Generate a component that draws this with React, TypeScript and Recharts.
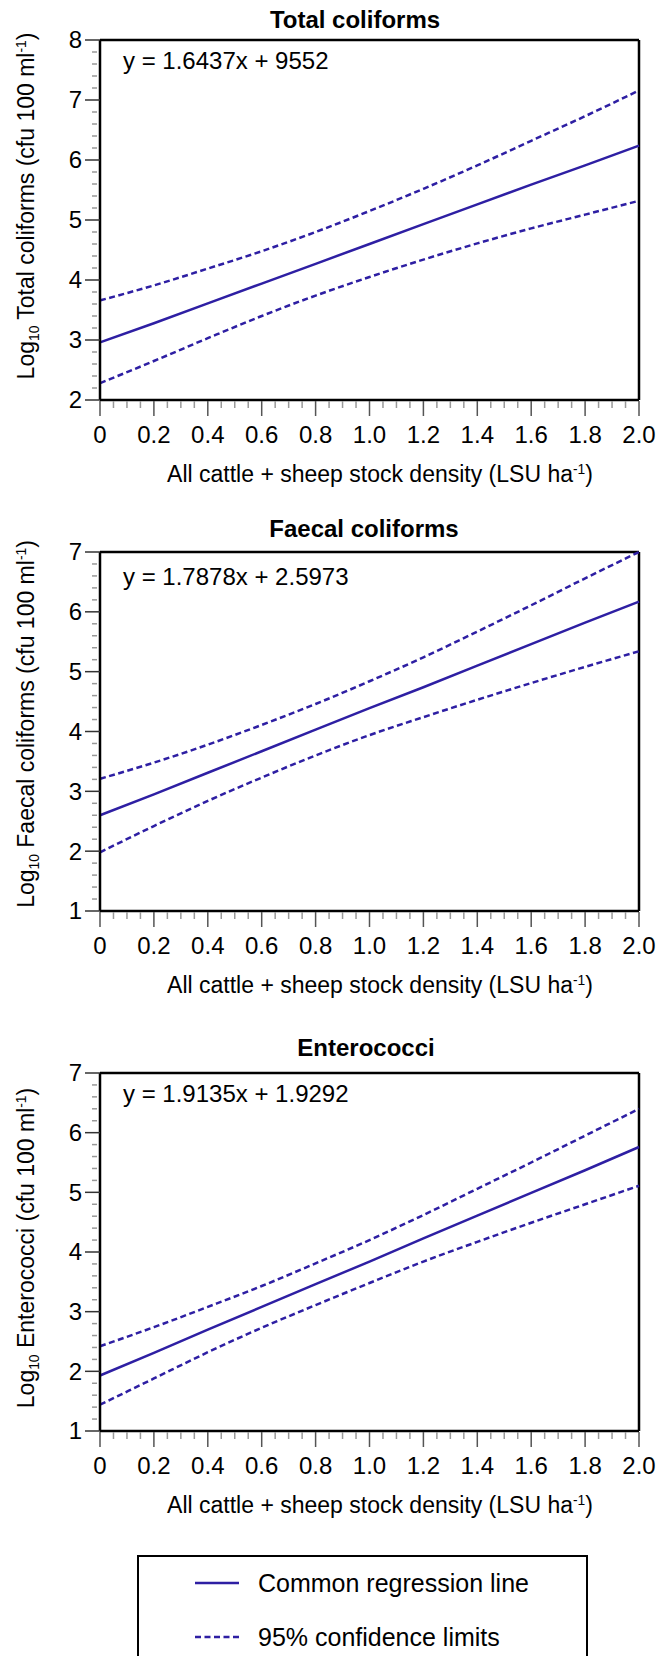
import { Line, LineChart, ReferenceLine, XAxis, YAxis } from 'recharts';

const FONT = '"Liberation Sans", Arial, Helvetica, sans-serif';
const LINE_COLOR = '#2e1fa3';

// stock density (LSU ha-1) at which the curves were read
const STOCK_DENSITY = [0, 0.2, 0.4, 0.6, 0.8, 1.0, 1.2, 1.4, 1.6, 1.8, 2.0];

const TOTAL_REG = [2.96, 3.28, 3.61, 3.94, 4.27, 4.6, 4.93, 5.26, 5.59, 5.91, 6.24];
const TOTAL_UPPER = [3.66, 3.91, 4.19, 4.48, 4.8, 5.15, 5.52, 5.91, 6.32, 6.73, 7.16];
const TOTAL_LOWER = [2.28, 2.65, 3.03, 3.4, 3.74, 4.05, 4.34, 4.61, 4.86, 5.09, 5.32];

const FAECAL_REG = [2.6, 2.95, 3.31, 3.67, 4.03, 4.39, 4.74, 5.1, 5.46, 5.82, 6.17];
const FAECAL_UPPER = [3.21, 3.48, 3.78, 4.11, 4.46, 4.84, 5.24, 5.67, 6.11, 6.56, 7.0];
const FAECAL_LOWER = [1.98, 2.42, 2.84, 3.23, 3.6, 3.94, 4.24, 4.53, 4.81, 5.08, 5.34];

const ENTERO_REG = [1.93, 2.31, 2.7, 3.08, 3.46, 3.84, 4.23, 4.61, 4.99, 5.37, 5.76];
const ENTERO_UPPER = [2.42, 2.74, 3.08, 3.43, 3.81, 4.2, 4.62, 5.06, 5.5, 5.95, 6.4];
const ENTERO_LOWER = [1.44, 1.88, 2.32, 2.73, 3.11, 3.48, 3.84, 4.17, 4.49, 4.8, 5.11];

const X_TICK_LABELS = ['0', '0.2', '0.4', '0.6', '0.8', '1.0', '1.2', '1.4', '1.6', '1.8', '2.0'];
const X_TICKS = [
  0, 0.05, 0.1, 0.15, 0.2, 0.25, 0.3, 0.35, 0.4, 0.45, 0.5, 0.55, 0.6, 0.65, 0.7, 0.75, 0.8,
  0.85, 0.9, 0.95, 1.0, 1.05, 1.1, 1.15, 1.2, 1.25, 1.3, 1.35, 1.4, 1.45, 1.5, 1.55, 1.6,
  1.65, 1.7, 1.75, 1.8, 1.85, 1.9, 1.95, 2.0,
];

// y ticks every 0.2, labels on whole numbers
function yTicks(lo: number, hi: number) {
  const out: number[] = [];
  for (let i = 0; i <= (hi - lo) * 5; i++) out.push(Math.round((lo + i * 0.2) * 10) / 10);
  return out;
}

interface Row {
  x: number;
  reg: number;
  upper: number;
  lower: number;
}

function buildRows(reg: number[], upper: number[], lower: number[]): Row[] {
  return STOCK_DENSITY.map((x, i) => ({ x, reg: reg[i], upper: upper[i], lower: lower[i] }));
}

function XTick(props: any) {
  const { x, y, payload } = props;
  const v = payload.value as number;
  const idx = Math.round(v / 0.2);
  const major = Math.abs(v - idx * 0.2) < 1e-6;
  return (
    <g>
      <line x1={x} x2={x} y1={y + 1} y2={y + (major ? 16 : 8)} stroke={major ? '#555' : '#999'} strokeWidth={1.5} />
      {major && (
        <text x={x} y={y + 35} dy="0.35em" textAnchor="middle" fontSize={24} fontFamily={FONT} fill="#000">
          {X_TICK_LABELS[idx]}
        </text>
      )}
    </g>
  );
}

function YTick(props: any) {
  const { x, y, payload } = props;
  const v = payload.value as number;
  const major = Math.abs(v - Math.round(v)) < 1e-6;
  if (!major) {
    return <line x1={x - 8} x2={x - 3} y1={y} y2={y} stroke="#999" strokeWidth={1.5} />;
  }
  return (
    <g>
      <line x1={x - 15} x2={x} y1={y} y2={y} stroke="#333" strokeWidth={1.5} />
      <text x={x - 18} y={y} dy="0.35em" textAnchor="end" fontSize={24} fontFamily={FONT} fill="#000">
        {Math.round(v)}
      </text>
    </g>
  );
}

interface PanelProps {
  plotTop: number;
  plotHeight: number;
  rows: Row[];
  domain: [number, number];
}

function Panel({ plotTop, plotHeight, rows, domain }: PanelProps) {
  return (
    <div style={{ position: 'absolute', left: 0, top: plotTop - 20 }}>
      <LineChart
        width={663}
        height={plotHeight + 80}
        data={rows}
        margin={{ top: 20, right: 24, bottom: 0, left: 0 }}
      >
        <XAxis
          type="number"
          dataKey="x"
          domain={[0, 2]}
          ticks={X_TICKS}
          interval={0}
          tickSize={0}
          tickMargin={0}
          tickLine={false}
          tick={XTick}
          axisLine={{ stroke: '#000', strokeWidth: 2.5 }}
          height={60}
        />
        <YAxis
          type="number"
          domain={domain}
          ticks={yTicks(domain[0], domain[1])}
          interval={0}
          tickSize={0}
          tickMargin={0}
          tickLine={false}
          tick={YTick}
          axisLine={{ stroke: '#000', strokeWidth: 2.5 }}
          width={100}
        />
        <ReferenceLine y={domain[1]} stroke="#000" strokeWidth={2.5} />
        <ReferenceLine x={2} stroke="#000" strokeWidth={2.5} />
        <Line dataKey="upper" type="monotone" stroke={LINE_COLOR} strokeWidth={2.5} strokeDasharray="6 3.5" dot={false} isAnimationActive={false} />
        <Line dataKey="lower" type="monotone" stroke={LINE_COLOR} strokeWidth={2.5} strokeDasharray="6 3.5" dot={false} isAnimationActive={false} />
        <Line dataKey="reg" type="linear" stroke={LINE_COLOR} strokeWidth={2.5} dot={false} isAnimationActive={false} />
      </LineChart>
    </div>
  );
}

const textBase: React.CSSProperties = {
  position: 'absolute',
  fontFamily: FONT,
  lineHeight: 1,
  whiteSpace: 'nowrap',
  color: '#000',
};

function Title({ cx, cy, children }: { cx: number; cy: number; children: React.ReactNode }) {
  return (
    <div style={{ ...textBase, left: cx, top: cy, fontSize: 24, fontWeight: 'bold', transform: 'translate(-50%, -50%)' }}>
      {children}
    </div>
  );
}

function Equation({ cy, text }: { cy: number; text: string }) {
  return <div style={{ ...textBase, left: 123, top: cy, fontSize: 24, transform: 'translateY(-50%)' }}>{text}</div>;
}

function XLabel({ cy }: { cy: number }) {
  return (
    <div style={{ ...textBase, left: 380, top: cy, fontSize: 23, transform: 'translate(-50%, -50%)' }}>
      All cattle + sheep stock density (LSU ha
      <span style={{ fontSize: '0.6em', position: 'relative', top: '-0.6em' }}>-1</span>)
    </div>
  );
}

function YLabel({ cy, name }: { cy: number; name: string }) {
  return (
    <div
      style={{
        ...textBase,
        left: 26,
        top: cy,
        fontSize: 23,
        transform: 'translate(-50%, -50%) rotate(-90deg)',
      }}
    >
      Log<span style={{ fontSize: '0.6em', position: 'relative', top: '0.35em' }}>10</span> {name} (cfu 100 ml
      <span style={{ fontSize: '0.6em', position: 'relative', top: '-0.6em' }}>-1</span>)
    </div>
  );
}

function LegendBox() {
  return (
    <div
      style={{
        position: 'absolute',
        left: 137,
        top: 1555,
        width: 451,
        height: 140,
        border: '2px solid #000',
        boxSizing: 'border-box',
      }}
    >
      <svg width={60} height={120} style={{ position: 'absolute', left: 54, top: 0 }}>
        <line x1={2} x2={46} y1={26} y2={26} stroke={LINE_COLOR} strokeWidth={2.5} />
        <line x1={2} x2={46} y1={80} y2={80} stroke={LINE_COLOR} strokeWidth={2.5} strokeDasharray="6 3.5" />
      </svg>
      <div style={{ ...textBase, left: 119, top: 26, fontSize: 25, transform: 'translateY(-50%)' }}>
        Common regression line
      </div>
      <div style={{ ...textBase, left: 119, top: 80, fontSize: 25, transform: 'translateY(-50%)' }}>
        95% confidence limits
      </div>
    </div>
  );
}

export default function App() {
  return (
    <div style={{ position: 'absolute', left: 0, top: 0, width: 663, height: 1656, background: '#fff', overflow: 'hidden' }}>
      <Panel plotTop={40} plotHeight={360} rows={buildRows(TOTAL_REG, TOTAL_UPPER, TOTAL_LOWER)} domain={[2, 8]} />
      <Title cx={355} cy={20}>Total coliforms</Title>
      <Equation cy={61} text="y = 1.6437x + 9552" />
      <YLabel cy={206} name="Total coliforms" />
      <XLabel cy={474} />

      <Panel plotTop={552} plotHeight={359} rows={buildRows(FAECAL_REG, FAECAL_UPPER, FAECAL_LOWER)} domain={[1, 7]} />
      <Title cx={364} cy={529}>Faecal coliforms</Title>
      <Equation cy={577} text="y = 1.7878x + 2.5973" />
      <YLabel cy={724} name="Faecal coliforms" />
      <XLabel cy={985} />

      <Panel plotTop={1073} plotHeight={358} rows={buildRows(ENTERO_REG, ENTERO_UPPER, ENTERO_LOWER)} domain={[1, 7]} />
      <Title cx={366} cy={1048}>Enterococci</Title>
      <Equation cy={1094} text="y = 1.9135x + 1.9292" />
      <YLabel cy={1248} name="Enterococci" />
      <XLabel cy={1505} />

      <LegendBox />
    </div>
  );
}
